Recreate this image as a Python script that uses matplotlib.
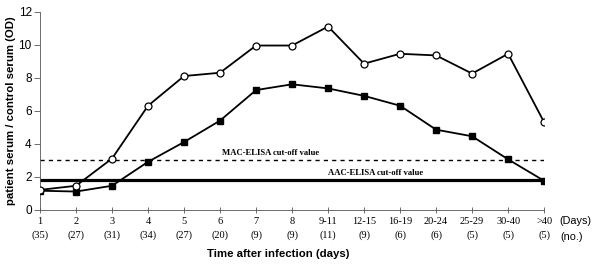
import matplotlib.pyplot as plt
import numpy as np

days = ['1', '2', '3', '4', '5', '6', '7', '8', '9-11', '12-15', '16-19',
        '20-24', '25-29', '30-40', '>40']
counts = [35, 27, 31, 34, 27, 20, 9, 9, 11, 9, 6, 6, 5, 5, 5]
mac = [1.2, 1.45, 3.1, 6.3, 8.1, 8.3, 9.95, 9.95, 11.1, 8.85, 9.45, 9.35, 8.25, 9.45, 5.3]
aac = [1.15, 1.1, 1.45, 2.9, 4.1, 5.4, 7.25, 7.6, 7.35, 6.9, 6.3, 4.85, 4.45, 3.05, 1.75]
mac_cutoff = 3.0
aac_cutoff = 1.8

serif = 'Liberation Serif'
sans = 'Liberation Sans'

fig = plt.figure(figsize=(5.98, 2.74), dpi=100)
ax = fig.add_axes([0.0669, 0.2347, 0.843, 0.7226])

x = np.arange(len(days))
ax.axhline(mac_cutoff, color='black', lw=1.0, ls=(0, (3, 3)), zorder=1)
ax.axhline(aac_cutoff, color='black', lw=2.3, zorder=1)
ax.plot(x, aac, color='black', lw=1.3, marker='s', ms=5, mfc='black', mec='black', zorder=3)
ax.plot(x, mac, color='black', lw=1.3, marker='o', ms=5, mfc='white', mec='black', mew=0.9, zorder=3)

ax.text(5.05, mac_cutoff + 0.2, 'MAC-ELISA cut-off value', family=serif, fontweight='bold',
        fontsize=6.2, va='bottom', ha='left')
ax.text(8.0, aac_cutoff + 0.2, 'AAC-ELISA cut-off value', family=serif, fontweight='bold',
        fontsize=6.2, va='bottom', ha='left')

ax.set_xlim(0, len(days) - 1)
ax.set_ylim(0, 12)
ax.set_yticks(range(0, 13, 2))
ax.set_xticks(x)
ax.set_xticklabels([f'{d}\n({c})' for d, c in zip(days, counts)], family=serif,
                   fontsize=7.5, linespacing=1.5)
for lab in ax.get_yticklabels():
    lab.set_family(sans)
    lab.set_fontsize(8.5)
ax.tick_params(axis='x', direction='inout', length=5, width=0.6, color='#555555', pad=3)
ax.tick_params(axis='y', direction='out', length=4, width=0.6, color='#555555', pad=2)

for s in ['top', 'right']:
    ax.spines[s].set_visible(False)
for s in ['left', 'bottom']:
    ax.spines[s].set_linewidth(0.6)
    ax.spines[s].set_color('#555555')
ax.spines['bottom'].set_zorder(0)

ax.set_ylabel('patient serum / control serum (OD)', family=sans, fontweight='bold',
              fontsize=8.2, labelpad=2)
fig.text(0.465, 0.055, 'Time after infection (days)', family=sans, fontweight='bold',
         fontsize=8.2, ha='center', va='bottom')
fig.text(0.935, 0.193, '(Days)', family=sans, fontsize=7.8, ha='left', va='center')
fig.text(0.937, 0.135, '(no.)', family=sans, fontsize=7.8, ha='left', va='center')

fig.savefig('out.png', dpi=100)
